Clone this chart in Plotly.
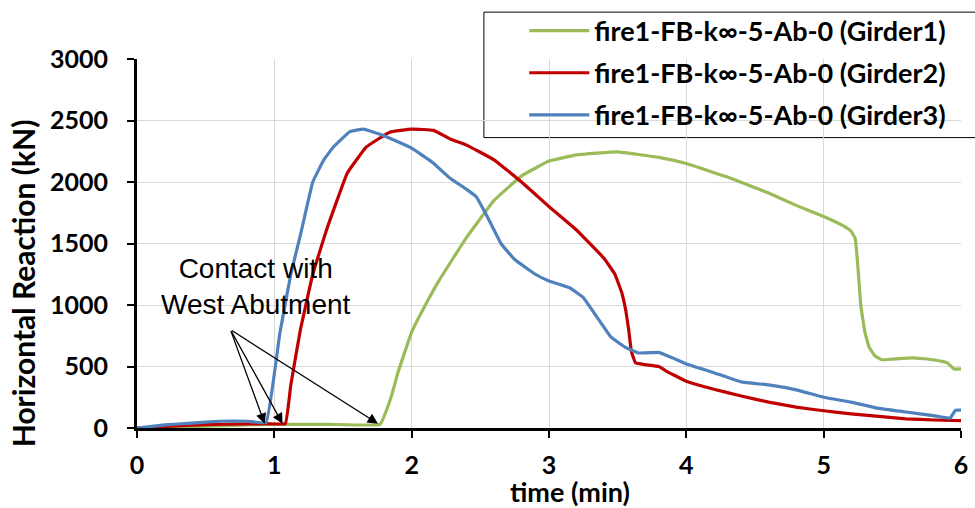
import plotly.graph_objects as go

# Girder1 (green)
t_g1 = [0, 0.2, 0.5, 0.8, 1.0, 1.4, 1.77, 1.85, 1.9, 2.0, 2.1, 2.2, 2.4, 2.6, 2.8, 3.0, 3.2, 3.5, 3.8, 4.0,
        4.3, 4.6, 4.8, 5.0, 5.15, 5.2, 5.23, 5.25, 5.27, 5.3, 5.33, 5.37, 5.42, 5.5, 5.65, 5.8, 5.9, 5.95, 6.0]
v_g1 = [0, 5, 15, 25, 30, 30, 30, 250, 450, 780, 1000, 1200, 1550, 1850, 2050, 2170, 2220, 2245, 2200, 2150,
        2040, 1910, 1810, 1720, 1640, 1600, 1540, 1300, 1000, 780, 660, 590, 555, 560, 570, 555, 530, 480, 480]

# Girder2 (red)
t_g2 = [0, 0.2, 0.5, 0.8, 0.95, 1.08, 1.12, 1.19, 1.28, 1.38, 1.53, 1.67, 1.84, 2.0, 2.16, 2.28, 2.4, 2.6, 2.8,
        3.0, 3.2, 3.4, 3.48, 3.53, 3.56, 3.58, 3.6, 3.63, 3.7, 3.8, 3.85, 4.0, 4.2, 4.4, 4.6, 4.8, 5.0, 5.2,
        5.4, 5.6, 5.8, 6.0]
v_g2 = [0, 12, 28, 33, 35, 35, 350, 800, 1250, 1610, 2070, 2285, 2405, 2430, 2420, 2350, 2300, 2180, 2000,
        1800, 1610, 1380, 1250, 1100, 950, 800, 620, 530, 515, 500, 465, 380, 315, 260, 210, 170, 140, 115,
        95, 75, 65, 60]

# Girder3 (blue)
t_g3 = [0, 0.2, 0.4, 0.6, 0.8, 0.94, 1.04, 1.12, 1.19, 1.28, 1.36, 1.43, 1.55, 1.65, 1.79, 2.0, 2.15, 2.28,
        2.4, 2.47, 2.55, 2.65, 2.75, 2.9, 3.0, 3.15, 3.25, 3.35, 3.45, 3.55, 3.65, 3.8, 3.9, 4.0, 4.2, 4.4,
        4.6, 4.8, 5.0, 5.2, 5.4, 5.6, 5.8, 5.92, 5.96, 6.0]
v_g3 = [0, 25, 40, 55, 55, 45, 770, 1250, 1570, 2000, 2180, 2285, 2410, 2430, 2380, 2275, 2160, 2030,
        1940, 1880, 1720, 1500, 1370, 1250, 1195, 1140, 1060, 900, 740, 660, 610, 615, 570, 520, 450, 375,
        350, 310, 250, 210, 160, 130, 100, 80, 145, 145]

names = ["fire1-FB-k∞-5-Ab-0 (Girder1)", "fire1-FB-k∞-5-Ab-0 (Girder2)", "fire1-FB-k∞-5-Ab-0 (Girder3)"]
colors = ["#9BBB59", "#C00000", "#4F81BD"]

x_ticks = [0, 1, 2, 3, 4, 5, 6]
y_ticks = [0, 500, 1000, 1500, 2000, 2500, 3000]

font_family = "Lato, Open Sans, sans-serif"

fig = go.Figure()
for i, (t, v, n, c) in enumerate(zip([t_g1, t_g2, t_g3], [v_g1, v_g2, v_g3], names, colors)):
    fig.add_trace(go.Scatter(x=t, y=v, mode="lines", name=n, legendgroup=f"g{i}",
                             line=dict(color=c, width=3.2, shape="spline", smoothing=0.25)))

fig.update_layout(
    width=975, height=508,
    margin=dict(l=137, r=14, t=59, b=80, autoexpand=False),
    plot_bgcolor="white", paper_bgcolor="white",
    font=dict(family=font_family, color="black"),
    showlegend=True,
    legend=dict(x=0.470, y=1.142, xanchor="left", yanchor="top",
                borderwidth=0, bgcolor="rgba(0,0,0,0)",
                font=dict(size=27, family=font_family, weight="bold"),
                itemwidth=60, tracegroupgap=4),
    xaxis=dict(range=[0, 6], tickvals=x_ticks, showgrid=True, gridcolor="#D9D9D9", gridwidth=1,
               showline=True, linecolor="black", linewidth=3, ticks="outside", ticklen=7,
               tickwidth=2, tickcolor="black", zeroline=False, ticklabelstandoff=6, automargin=False,
               tickfont=dict(size=25, family=font_family, weight="bold")),
    yaxis=dict(range=[0, 3000], tickvals=y_ticks, showgrid=True, gridcolor="#D9D9D9", gridwidth=1,
               showline=True, linecolor="black", linewidth=3, ticks="outside", ticklen=7,
               tickwidth=2, tickcolor="black", zeroline=False, ticklabelstandoff=14, automargin=False,
               tickfont=dict(size=25, family=font_family, weight="bold")),
)

# legend frame (extends beyond right edge, as in the reference)
fig.add_shape(type="rect", xref="paper", yref="paper", x0=0.421, x1=1.05, y0=0.787, y1=1.127,
              line=dict(color="black", width=1), fillcolor="rgba(0,0,0,0)", layer="below")

# axis titles
fig.add_annotation(x=-0.138, y=0.393, xref="paper", yref="paper", xanchor="center", yanchor="middle",
                   text="<b>Horizontal Reaction (kN)</b>",
                   textangle=-90, showarrow=False, font=dict(size=30, family=font_family))
fig.add_annotation(x=0.5255, y=-0.171, xref="paper", yref="paper", xanchor="center", yanchor="middle",
                   text="<b>time (min)</b>",
                   showarrow=False, font=dict(size=27, family=font_family))

fig.add_annotation(x=0.867, y=1154, xref="x", yref="y", xanchor="center", yanchor="middle",
                   text="Contact with<br>West Abutment",
                   showarrow=False, font=dict(size=28, family="Liberation Sans, Arial", color="black"),
                   align="center")

tail_x, tail_y = 0.68, 800
for hx, hy in [(0.93, 35), (1.06, 35), (1.755, 35)]:
    fig.add_annotation(x=hx, y=hy, ax=tail_x, ay=tail_y, xref="x", yref="y", axref="x", ayref="y",
                       text="", showarrow=True, arrowhead=2, arrowsize=1.6, arrowwidth=1.3,
                       arrowcolor="black")

fig.write_html("out.html")
